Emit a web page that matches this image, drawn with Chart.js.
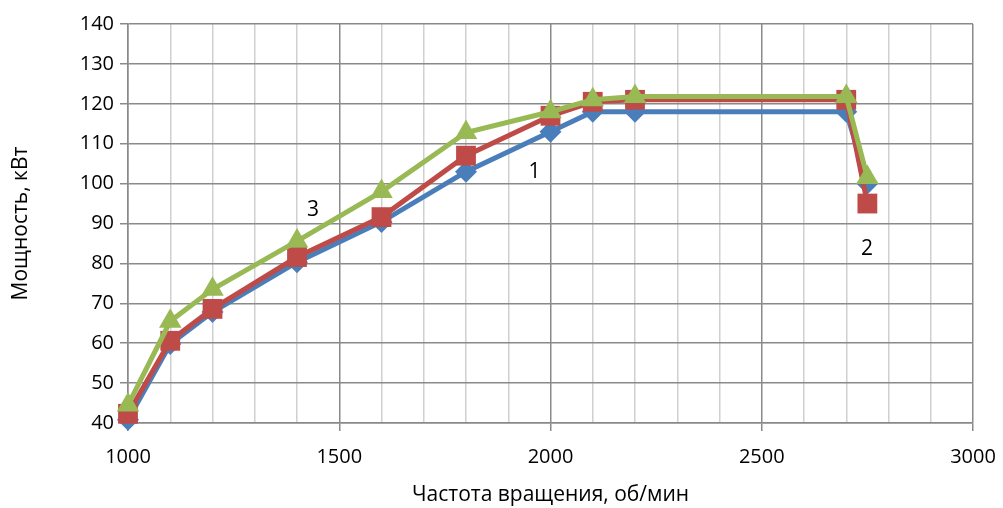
<!DOCTYPE html>
<html>
<head>
<meta charset="utf-8">
<script src="https://cdn.jsdelivr.net/npm/chart.js@4/dist/chart.umd.min.js"></script>
<style>
  html, body { margin: 0; padding: 0; background: #fff; }
  #wrap { width: 1003px; height: 508px; }
</style>
</head>
<body>
<div id="wrap"><canvas id="powerChart"></canvas></div>
<script>
// rpm values
const rpm = [1000, 1100, 1200, 1400, 1600, 1800, 2000, 2100, 2200, 2700, 2750];
// power, kW
const power1 = [40.8, 59.8, 67.8, 80.3, 90.4, 103, 113, 118, 118, 118, 100];
const power2 = [42.3, 60.6, 68.6, 81.6, 91.6, 107, 117, 120.5, 121, 121, 95];
const power3 = [44.5, 65.5, 73.5, 85.6, 98, 112.8, 118, 121, 121.8, 121.8, 101.5];
const xTicks = [1000, 1500, 2000, 2500, 3000];
const yTicks = [40, 50, 60, 70, 80, 90, 100, 110, 120, 130, 140];
// curve numbers placed in data coordinates
const curveLabels = [
    { text: "1", x: 1962, y: 102.8 },
    { text: "2", x: 2749, y: 83.6 },
    { text: "3", x: 1438, y: 93.4 },
];

const FONT = "'Open Sans', 'DejaVu Sans', sans-serif";

function points(ys) {
    return rpm.map((x, i) => ({ x: x, y: ys[i] }));
}

const curveLabelPlugin = {
    id: "curveLabels",
    afterDatasetsDraw(chart) {
        const ctx = chart.ctx;
        const xs = chart.scales.x, ys = chart.scales.y;
        ctx.save();
        ctx.font = "21px " + FONT;
        ctx.fillStyle = "#000";
        ctx.textAlign = "center";
        ctx.textBaseline = "middle";
        curveLabels.forEach(l => {
            ctx.fillText(l.text, xs.getPixelForValue(l.x), ys.getPixelForValue(l.y));
        });
        ctx.restore();
    },
};

document.addEventListener("DOMContentLoaded", function () {
    const ctx = document.getElementById("powerChart");
    new Chart(ctx, {
        type: "scatter",
        data: {
            datasets: [
                {
                    label: "1",
                    data: points(power1),
                    showLine: true,
                    clip: false,
                    borderColor: "#4a7ebb",
                    backgroundColor: "#4a7ebb",
                    borderWidth: 5,
                    pointStyle: "rectRot",
                    pointRadius: 11,
                    pointBorderWidth: 0,
                    order: 3,
                },
                {
                    label: "2",
                    data: points(power2),
                    showLine: true,
                    clip: false,
                    borderColor: "#be4b48",
                    backgroundColor: "#be4b48",
                    borderWidth: 5,
                    pointStyle: "rect",
                    pointRadius: 14,
                    pointBorderWidth: 0,
                    order: 2,
                },
                {
                    label: "3",
                    data: points(power3),
                    showLine: true,
                    clip: false,
                    borderColor: "#98b954",
                    backgroundColor: "#98b954",
                    borderWidth: 5,
                    pointStyle: "triangle",
                    pointRadius: 13,
                    pointBorderWidth: 0,
                    order: 1,
                },
            ],
        },
        options: {
            responsive: true,
            maintainAspectRatio: false,
            animation: false,
            layout: { padding: { left: 0, right: 30, top: 24, bottom: 0 } },
            plugins: {
                legend: { display: false },
                tooltip: { enabled: false },
            },
            scales: {
                x: {
                    type: "linear",
                    min: 1000,
                    max: 3000,
                    afterFit: s => {
                        s.height = 85;
                        s.paddingLeft = 0;
                        s.paddingRight = 0;
                    },
                    ticks: {
                        stepSize: 100,
                        autoSkip: false,
                        maxRotation: 0,
                        color: "#000",
                        font: { family: FONT, size: 20 },
                        padding: 14,
                        callback: v => (xTicks.includes(v) ? String(v) : ""),
                    },
                    grid: {
                        color: c => (c.tick && c.tick.value % 500 === 0 ? "#8a8a8a" : "#d0d0d0"),
                        tickColor: c => (c.tick && c.tick.value % 500 === 0 ? "#8a8a8a" : "rgba(0,0,0,0)"),
                        lineWidth: 1.5,
                        tickLength: 8,
                    },
                    border: { color: "#8a8a8a", width: 1.5 },
                    title: {
                        display: true,
                        text: "Частота вращения, об/мин",
                        color: "#000",
                        font: { family: FONT, size: 21 },
                        padding: { top: 4, bottom: 0 },
                    },
                },
                y: {
                    min: 40,
                    max: 140,
                    afterFit: s => {
                        s.width = 128;
                        s.paddingTop = 0;
                        s.paddingBottom = 0;
                    },
                    afterBuildTicks: s => { s.ticks = yTicks.map(v => ({ value: v })); },
                    ticks: {
                        color: "#000",
                        font: { family: FONT, size: 20 },
                        padding: 6,
                    },
                    grid: {
                        color: "#8a8a8a",
                        lineWidth: 1.5,
                        tickLength: 8,
                    },
                    border: { color: "#8a8a8a", width: 1.5 },
                    title: {
                        display: true,
                        text: "Мощность, кВт",
                        color: "#000",
                        font: { family: FONT, size: 21 },
                        padding: { top: 8, bottom: 0 },
                    },
                },
            },
        },
        plugins: [curveLabelPlugin],
    });
});
</script>
</body>
</html>
